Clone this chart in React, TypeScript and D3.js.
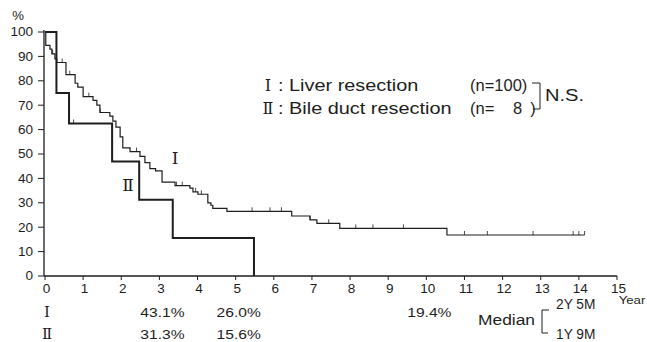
import React from 'react';
import * as d3 from 'd3';

// Kaplan-Meier steps (years, survival %)
const timesI = [0, 0.02, 0.13, 0.18, 0.26, 0.31, 0.55, 0.79, 0.86, 1.0, 1.26, 1.36, 1.44, 1.7, 1.78, 1.86, 1.97, 2.04, 2.23, 2.49, 2.62, 2.75, 2.9, 3.07, 3.41, 3.8, 3.88, 4.01, 4.27, 4.35, 4.4, 4.77, 6.47, 6.95, 7.13, 7.73, 10.54, 14.15];
const survI = [100, 94.5, 93, 91, 89, 87.5, 82.5, 79, 77.4, 73.5, 72, 70, 67, 65.5, 63.5, 61, 57, 52.5, 51, 49, 46.5, 44, 43.1, 38.5, 37, 36, 34.5, 33.5, 30, 29, 27.7, 26.5, 24.6, 23, 21.6, 19.5, 16.8, 16.8];
const censorI = [0.2, 0.45, 0.65, 1.15, 1.45, 2.4, 3.45, 3.6, 3.95, 4.1, 5.43, 5.9, 6.2, 6.95, 7.44, 8.15, 8.6, 9.4, 11.0, 11.6, 12.8, 13.85, 14.0, 14.15];

const timesII = [0, 0.3, 0.63, 1.76, 2.47, 3.35, 5.48];
const survII = [100, 75, 62.5, 46.9, 31.3, 15.6, 0];
const censorII = [0.75];

const xTicks = [0, 1, 2, 3, 4, 5, 6, 7, 8, 9, 10, 11, 12, 13, 14, 15];
const yTicks = [0, 10, 20, 30, 40, 50, 60, 70, 80, 90, 100];

const markYears = [3, 5, 10];
const ratesI = ['43.1%', '26.0%', '19.4%'];
const ratesII = ['31.3%', '15.6%'];

const SANS = 'Liberation Sans, Arial, sans-serif';
const SERIF = 'DejaVu Serif, Liberation Serif, serif';
const INK = '#1e1e1e';

function T({ x, y, size, sx = 1.18, anchor = 'start', family = SANS, children }: any) {
  return (
    <text
      transform={`translate(${x},${y}) scale(${sx},1)`}
      fontSize={size}
      fontFamily={family}
      textAnchor={anchor}
      fill={INK}
    >
      {children}
    </text>
  );
}

export default function App() {
  const x = d3.scaleLinear().domain([0, 15]).range([45, 617]);
  const y = d3.scaleLinear().domain([0, 100]).range([276, 32]);

  const line = d3
    .line<[number, number]>()
    .x(d => x(d[0]))
    .y(d => y(d[1]))
    .curve(d3.curveStepAfter);

  const ptsI = timesI.map((t, i) => [t, survI[i]] as [number, number]);
  const ptsII = timesII.map((t, i) => [t, survII[i]] as [number, number]);

  const stepAt = (ts: number[], vs: number[], t: number) => vs[Math.max(0, d3.bisectRight(ts, t) - 1)];

  return (
    <div style={{ position: 'absolute', left: 0, top: 0 }}>
      <svg width={647} height={342} style={{ display: 'block', background: '#fff' }}>
        {/* axes */}
        <line x1={x(0) - 1} x2={x(0) - 1} y1={y(100) - 2} y2={y(0)} stroke={INK} strokeWidth={1.3} />
        <line x1={x(0) - 1} x2={x(15)} y1={y(0)} y2={y(0)} stroke={INK} strokeWidth={1.3} />
        {yTicks.map(v => (
          <g key={'y' + v}>
            <line x1={x(0) - 7} x2={x(0) - 1} y1={y(v)} y2={y(v)} stroke={INK} strokeWidth={1} />
            <T x={33} y={y(v) + 4.3} size={12} sx={1.13} anchor="end">{v}</T>
          </g>
        ))}
        <T x={18} y={20} size={12} sx={1.1} anchor="middle">%</T>
        {xTicks.map(v => (
          <g key={'x' + v}>
            <line x1={x(v)} x2={x(v)} y1={y(0)} y2={y(0) + 4} stroke={INK} strokeWidth={1} />
            <T x={x(v) + 1.5} y={292.5} size={12} sx={1.13} anchor="middle">{v}</T>
          </g>
        ))}
        <T x={632} y={304} size={11} sx={1.2} anchor="middle">Year</T>

        {/* survival curves */}
        <path d={line(ptsI) || ''} fill="none" stroke={INK} strokeWidth={1.2} />
        <path d={line(ptsII) || ''} fill="none" stroke={INK} strokeWidth={2} />
        {censorI.map((t, i) => (
          <line key={'ci' + i} x1={x(t)} x2={x(t)} y1={y(stepAt(timesI, survI, t))} y2={y(stepAt(timesI, survI, t)) - 4} stroke={INK} strokeWidth={0.8} />
        ))}
        {censorII.map((t, i) => (
          <line key={'cii' + i} x1={x(t)} x2={x(t)} y1={y(stepAt(timesII, survII, t))} y2={y(stepAt(timesII, survII, t)) - 4} stroke={INK} strokeWidth={0.8} />
        ))}

        {/* curve labels */}
        <T x={175} y={164} size={17} sx={1} anchor="middle" family={SERIF}>Ⅰ</T>
        <T x={128} y={191} size={17} sx={1} anchor="middle" family={SERIF}>Ⅱ</T>

        {/* legend */}
        <T x={268} y={91} size={16} sx={1} anchor="middle" family={SERIF}>Ⅰ</T>
        <T x={278} y={91} size={17} sx={1.17}>: Liver resection</T>
        <T x={268} y={114} size={16} sx={1} anchor="middle" family={SERIF}>Ⅱ</T>
        <T x={278} y={114} size={17} sx={1.17}>: Bile duct resection</T>
        <T x={470} y={91} size={16.5} sx={1}>(n=100)</T>
        <T x={470} y={114} size={16.5} sx={1}>(n=</T>
        <T x={517.5} y={114} size={16.5} sx={1} anchor="middle">8</T>
        <T x={533} y={114} size={16.5} sx={1} anchor="middle">)</T>
        <path d="M532,83 H540 V109 H533" fill="none" stroke={INK} strokeWidth={1} />
        <T x={545} y={101} size={16.5} sx={1.22}>N.S.</T>

        {/* survival rates table */}
        <T x={x(0) + 2} y={317} size={15} sx={1} anchor="middle" family={SERIF}>Ⅰ</T>
        <T x={x(0) + 2} y={339} size={15} sx={1} anchor="middle" family={SERIF}>Ⅱ</T>
        {ratesI.map((r, i) => (
          <T key={'r1' + i} x={x(markYears[i]) + 3} y={317} size={13} sx={1.2} anchor="middle">{r}</T>
        ))}
        {ratesII.map((r, i) => (
          <T key={'r2' + i} x={x(markYears[i]) + 3} y={339} size={13} sx={1.2} anchor="middle">{r}</T>
        ))}

        {/* median */}
        <T x={478} y={325} size={14.5} sx={1.2}>Median</T>
        <path d="M549,310 H542 V333 H548" fill="none" stroke={INK} strokeWidth={1} />
        <T x={556} y={309} size={14} sx={0.98}>2Y 5M</T>
        <T x={556} y={339} size={14} sx={0.98}>1Y 9M</T>
      </svg>
    </div>
  );
}
